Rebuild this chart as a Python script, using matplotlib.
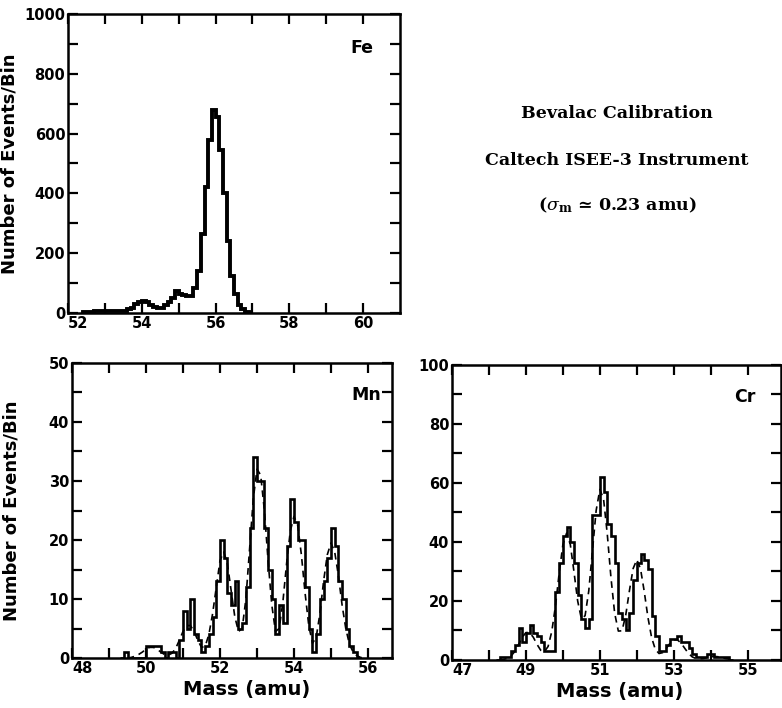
import numpy as np
import matplotlib.pyplot as plt

plt.rcParams['font.family'] = ['DejaVu Sans']
plt.rcParams['mathtext.fontset'] = 'dejavuserif'

bin_w = 0.1

# Fe histogram (counts per 0.1 amu bin, first bin starts at fe_start)
fe_start = 52.4
fe_counts = [2, 3, 4, 5, 6, 6, 7, 6, 5, 5,
             6, 8, 12, 18, 30, 38, 40, 35, 28, 20,
             16, 18, 25, 35, 50, 72, 65, 60, 55, 58,
             85, 140, 265, 420, 580, 680, 655, 545, 400, 240,
             125, 65, 25, 12, 4, 1]

# Mn histogram + fit
mn_start = 49.3
mn_counts = [0, 1, 0, 0, 0, 0, 0, 2, 2, 2,
             2, 1, 0, 1, 1, 0, 3, 8, 5, 10,
             4, 3, 1, 2, 4, 7, 13, 20, 17, 11,
             9, 13, 5, 6, 12, 22, 34, 30, 30, 22,
             15, 10, 4, 9, 6, 19, 27, 23, 20, 20,
             12, 5, 1, 4, 10, 13, 17, 22, 19, 13,
             10, 5, 2, 1, 0]
mn_fit_start = 49.5
mn_fit = [0.0, 0.1, 0.3, 0.6, 1.0, 1.5, 1.8, 1.8, 1.5, 1.0,
          0.6, 0.5, 0.8, 1.6, 3.0, 4.5, 5.5, 5.5, 4.5, 3.0,
          1.8, 2.0, 4.0, 7.5, 12.0, 16.5, 18.0, 16.0, 11.5, 7.0,
          4.5, 5.0, 10.0, 18.5, 27.0, 32.0, 31.0, 25.0, 16.5, 9.0,
          4.5, 5.0, 9.5, 16.0, 21.5, 24.0, 22.5, 17.5, 11.0, 5.5,
          2.5, 3.5, 7.5, 13.0, 17.5, 19.5, 18.0, 14.0, 9.0, 5.0,
          2.3, 1.0, 0.4, 0.1, 0.0]

# Cr histogram + fit
cr_start = 48.2
cr_counts = [0, 1, 1, 1, 3, 5, 11, 6, 9, 12,
             9, 8, 6, 3, 3, 3, 23, 33, 42, 45,
             40, 33, 22, 14, 11, 14, 49, 49, 62, 57,
             46, 42, 33, 16, 14, 10, 16, 27, 33, 36,
             34, 31, 15, 8, 3, 3, 5, 7, 7, 8,
             6, 6, 4, 2, 1, 1, 1, 2, 2, 1,
             1, 1, 1, 0]
cr_fit_start = 48.3
cr_fit = [0.0, 0.2, 0.6, 1.4, 2.9, 5.2, 7.7, 9.3, 9.3, 7.7,
          5.3, 3.3, 2.8, 4.6, 9.7, 18.4, 29.5, 39.1, 43.0, 39.2,
          29.9, 20.0, 14.0, 15.0, 23.4, 37.1, 50.7, 57.8, 54.6, 42.8,
          28.0, 15.9, 9.8, 9.9, 15.2, 23.5, 31.0, 34.0, 30.9, 23.3,
          14.5, 7.6, 3.6, 2.2, 2.5, 4.0, 5.7, 6.8, 6.8, 5.7,
          3.9, 2.2, 1.05, 0.5, 0.4, 0.5, 0.8, 1.1, 1.2, 1.1,
          0.8, 0.5, 0.3, 0.1]

fe_xticks = [52, 54, 56, 58, 60]
fe_yticks = [0, 200, 400, 600, 800, 1000]
mn_xticks = [48, 50, 52, 54, 56]
mn_yticks = [0, 10, 20, 30, 40, 50]
cr_xticks = [47, 49, 51, 53, 55]
cr_yticks = [0, 20, 40, 60, 80, 100]

ylab = 'Number of Events/Bin'
xlab = 'Mass (amu)'


def edges(start, n):
    return start + bin_w * np.arange(n + 1)


def style(ax, xlim, ylim, xt, yt, xminor, yminor):
    ax.set_xlim(xlim)
    ax.set_ylim(ylim)
    ax.set_xticks(xt)
    ax.set_yticks(yt)
    ax.set_xticks(np.arange(xlim[0], xlim[1], xminor), minor=True)
    ax.set_yticks(np.arange(ylim[0], ylim[1], yminor), minor=True)
    ax.tick_params(which='both', direction='in', top=True, right=True,
                   length=7, width=1.6)
    ax.tick_params(axis='both', labelsize=10.5, pad=2)
    for lab in ax.get_xticklabels() + ax.get_yticklabels():
        lab.set_fontweight('bold')
    # first x label starts at the corner so it clears the "0"
    ax.get_xticklabels()[0].set_horizontalalignment('left')
    for s in ax.spines.values():
        s.set_linewidth(1.8)


fig = plt.figure(figsize=(7.82, 7.08), dpi=100)

# Fe
ax1 = fig.add_axes([0.087, 0.558, 0.4246, 0.4223])
ax1.stairs(fe_counts, edges(fe_start, len(fe_counts)), color='black', linewidth=2.8)
style(ax1, (52, 61), (0, 1000), fe_xticks, fe_yticks, 1, 100)
ax1.set_ylabel(ylab, fontsize=13, fontweight='bold')
ax1.yaxis.set_label_coords(-0.15, 0.5)
ax1.text(0.886, 0.886, 'Fe', transform=ax1.transAxes, ha='center', va='center',
         fontsize=12.5, fontweight='bold')

# Mn
ax2 = fig.add_axes([0.0921, 0.0706, 0.4092, 0.4167])
ax2.stairs(mn_counts, edges(mn_start, len(mn_counts)), color='black', linewidth=1.9)
ax2.plot(mn_fit_start + bin_w * np.arange(len(mn_fit)), mn_fit, color='black',
         linewidth=1.2, linestyle=(0, (4, 3)))
style(ax2, (48, 56.65), (0, 50), mn_xticks, mn_yticks, 1, 5)
ax2.set_ylabel(ylab, fontsize=13, fontweight='bold')
ax2.yaxis.set_label_coords(-0.16, 0.5)
ax2.text(0.92, 0.89, 'Mn', transform=ax2.transAxes, ha='center', va='center',
         fontsize=12.5, fontweight='bold')
ax2.text(0.547, -0.108, xlab, transform=ax2.transAxes, ha='center', va='center',
         fontsize=14, fontweight='bold')

# Cr
ax3 = fig.add_axes([0.578, 0.0678, 0.4207, 0.4167])
ax3.stairs(cr_counts, edges(cr_start, len(cr_counts)), color='black', linewidth=1.9)
ax3.plot(cr_fit_start + bin_w * np.arange(len(cr_fit)), cr_fit, color='black',
         linewidth=1.2, linestyle=(0, (4, 3)))
style(ax3, (47, 55.9), (0, 100), cr_xticks, cr_yticks, 1, 10)
ax3.text(0.89, 0.89, 'Cr', transform=ax3.transAxes, ha='center', va='center',
         fontsize=12.5, fontweight='bold')
ax3.text(0.51, -0.108, xlab, transform=ax3.transAxes, ha='center', va='center',
         fontsize=14, fontweight='bold')

# caption block
tfont = dict(family='DejaVu Serif', fontweight='bold', fontsize=12.5,
             ha='center', va='center')
fig.text(0.789, 0.840, 'Bevalac Calibration', **tfont)
fig.text(0.789, 0.774, 'Caltech ISEE-3 Instrument', **tfont)
fig.text(0.789, 0.710, r'($\sigma_{\mathbf{m}}$ ≃ 0.23 amu)', **tfont)

fig.savefig('out.png', dpi=100)
